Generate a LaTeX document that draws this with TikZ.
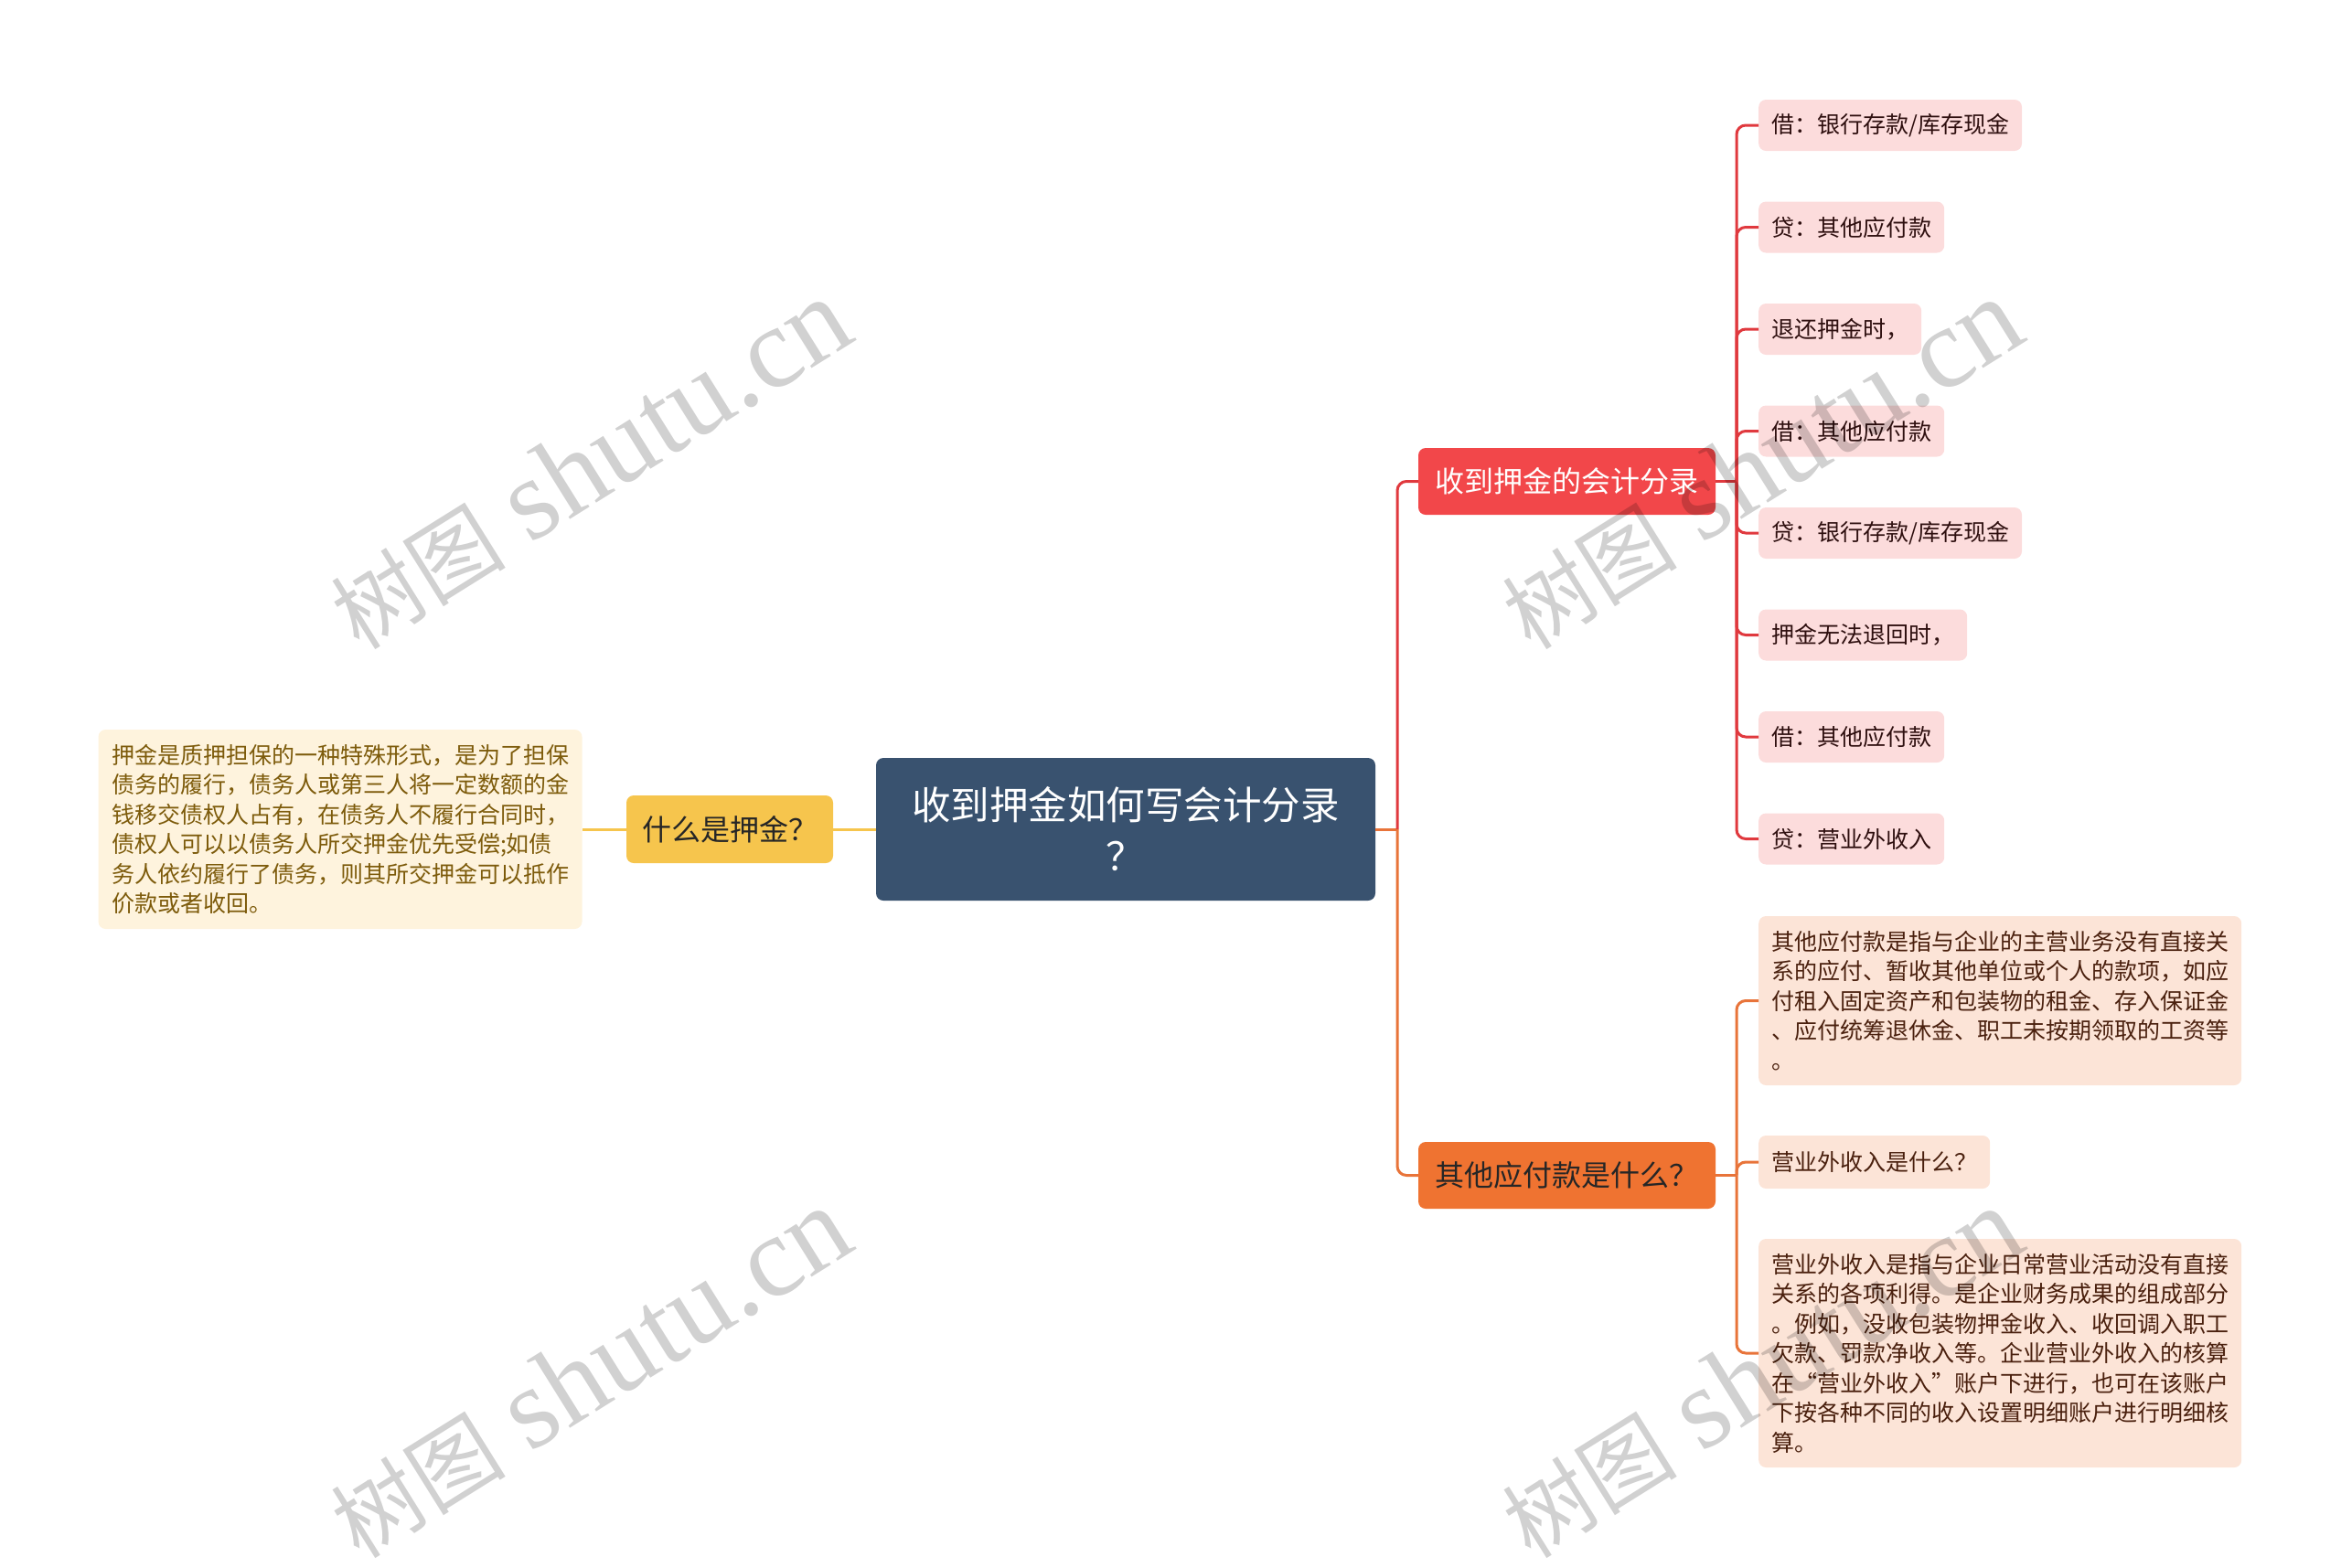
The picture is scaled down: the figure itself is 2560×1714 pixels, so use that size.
\documentclass[tikz,border=0pt]{standalone}
\usepackage{fontspec}
\setmainfont{Noto Sans CJK SC}
\newfontfamily\wmlatin{Liberation Serif}

\definecolor{rootblue}{HTML}{39526F}
\definecolor{goldy}{HTML}{F6C54D}
\definecolor{cream}{HTML}{FEF3DD}
\definecolor{creamtext}{HTML}{7D5B0B}
\definecolor{reddish}{HTML}{F2474A}
\definecolor{redline}{HTML}{E0393E}
\definecolor{pinkleaf}{HTML}{FCDCDC}
\definecolor{pinktext}{HTML}{2E0F0F}
\definecolor{orangy}{HTML}{EF7331}
\definecolor{orangeline}{HTML}{E8743A}
\definecolor{peachleaf}{HTML}{FCE4D7}
\definecolor{peachtext}{HTML}{4A200E}

\newcommand{\wmtext}{{\fontsize{96}{100}\selectfont 树图}\hspace{28pt}{\wmlatin\fontsize{126}{126}\selectfont shutu.cn}}

\begin{document}
\begin{tikzpicture}[x=1pt,y=-1pt]
 	\tikzstyle{every node}+=[inner sep=0pt]
 	\tikzstyle{root}=[fill=rootblue, rounded corners=8pt, minimum width=546pt, minimum height=156pt, text=white, align=center, font=\fontsize{42.5}{56}\selectfont]
 	\tikzstyle{topic}=[rounded corners=8pt, minimum width=325pt, minimum height=73pt, font=\fontsize{32}{40}\selectfont]
 	\tikzstyle{leaf}=[rounded corners=8pt, inner xsep=14pt, minimum height=56pt, anchor=west, align=left, font=\fontsize{25}{32.5}\selectfont]
 	\tikzstyle{wire}=[line width=3pt]
 	\tikzstyle{wmark}=[rotate=32, text=black, text opacity=0.18]
 	\useasboundingbox (0,0) rectangle (2560,1714);
 	% centre and left side
 	\node [root] (root) at (1231,907) {收到押金如何写会计分录\\？};
 	\node [topic, fill=goldy, text=black!85, minimum width=226pt, minimum height=74pt] (what) at (798,907) {什么是押金？};
 	\node [fill=cream, text=creamtext, rounded corners=8pt, minimum width=529pt, minimum height=218pt, align=left, font=\fontsize{25}{32.5}\selectfont] (whatnote) at (372,907) {押金是质押担保的一种特殊形式，是为了担保\\债务的履行，债务人或第三人将一定数额的金\\钱移交债权人占有，在债务人不履行合同时，\\债权人可以以债务人所交押金优先受偿;如债\\务人依约履行了债务，则其所交押金可以抵作\\价款或者收回。};
 	\draw [wire, goldy] (root.west) -- (what.east);
 	\draw [wire, goldy] (what.west) -- (whatnote.east);
 	% right side
 	\node [topic, fill=reddish, text=white] (entry) at (1713.5,526.5) {收到押金的会计分录};
 	\node [topic, fill=orangy, text=black!85] (other) at (1713.5,1285.5) {其他应付款是什么？};
 	\coordinate (rootfork) at (1528,907);
 	\coordinate (entryfork) at (1899,526.5);
 	\coordinate (otherfork) at (1899,1285.5);
 	\draw [wire, orangeline] (root.east) -- (rootfork);
 	\draw [wire, redline, rounded corners=10pt] (rootfork) |- (entry.west);
 	\draw [wire, orangeline, rounded corners=10pt] (rootfork) |- (other.west);
 	% entries
 	\node [leaf, fill=pinkleaf, text=pinktext] (e1) at (1923,137) {借：银行存款/库存现金};
 	\node [leaf, fill=pinkleaf, text=pinktext] (e2) at (1923,248.5) {贷：其他应付款};
 	\node [leaf, fill=pinkleaf, text=pinktext] (e3) at (1923,360) {退还押金时，};
 	\node [leaf, fill=pinkleaf, text=pinktext] (e4) at (1923,471.5) {借：其他应付款};
 	\node [leaf, fill=pinkleaf, text=pinktext] (e5) at (1923,583) {贷：银行存款/库存现金};
 	\node [leaf, fill=pinkleaf, text=pinktext] (e6) at (1923,694.5) {押金无法退回时，};
 	\node [leaf, fill=pinkleaf, text=pinktext] (e7) at (1923,806) {借：其他应付款};
 	\node [leaf, fill=pinkleaf, text=pinktext] (e8) at (1923,917.5) {贷：营业外收入};
 	\draw [wire, redline] (entry.east) -- (entryfork);
 	\foreach \e in {e1,e2,e3,e4,e5,e6,e7,e8}
 		\draw [wire, redline, rounded corners=10pt] (entryfork) |- (\e.west);
 	% other payables
 	\node [leaf, fill=peachleaf, text=peachtext, minimum height=185pt] (o1) at (1923,1094.5) {其他应付款是指与企业的主营业务没有直接关\\系的应付、暂收其他单位或个人的款项，如应\\付租入固定资产和包装物的租金、存入保证金\\、应付统筹退休金、职工未按期领取的工资等\\。};
 	\node [leaf, fill=peachleaf, text=peachtext, minimum height=58pt] (o2) at (1923,1271) {营业外收入是什么？};
 	\node [leaf, fill=peachleaf, text=peachtext, minimum height=250pt] (o3) at (1923,1480) {营业外收入是指与企业日常营业活动没有直接\\关系的各项利得。是企业财务成果的组成部分\\。例如，没收包装物押金收入、收回调入职工\\欠款、罚款净收入等。企业营业外收入的核算\\在“营业外收入”账户下进行，也可在该账户\\下按各种不同的收入设置明细账户进行明细核\\算。};
 	\draw [wire, orangeline] (other.east) -- (otherfork);
 	\foreach \o in {o1,o2,o3}
 		\draw [wire, orangeline, rounded corners=10pt] (otherfork) |- (\o.west);
 	% watermarks
 	\node [wmark] (wm1) at (645,508) {\wmtext};
 	\node [wmark] (wm2) at (1926,508) {\wmtext};
 	\node [wmark] (wm3) at (645,1502) {\wmtext};
 	\node [wmark] (wm4) at (1926,1502) {\wmtext};
\end{tikzpicture}
\end{document}
